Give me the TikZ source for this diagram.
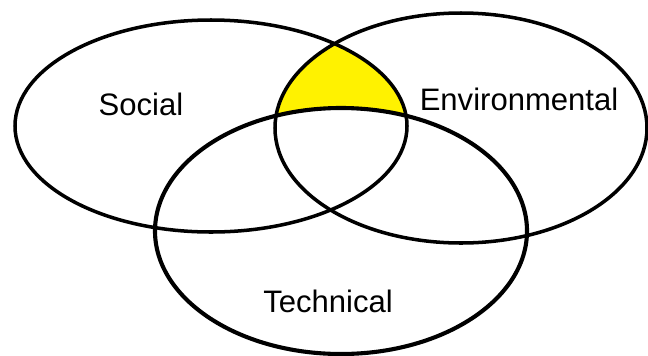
\documentclass[tikz,border=0pt]{standalone}
\usepackage{fontspec}
\setmainfont{Liberation Sans}

\begin{document}
\begin{tikzpicture}[x=0.03cm,y=-0.03cm,line width=3pt,
  setlabel/.style={anchor=base,font=\fontsize{26.5}{30}\selectfont}]
  \useasboundingbox (0,0) rectangle (648,355);
  % shaded part: social and environmental, but not technical
  \begin{scope}
    \clip (211,126) ellipse [x radius=196, y radius=106];
    \clip (461,128) ellipse [x radius=186, y radius=115];
    \fill[fill={rgb,255:red,255;green,242;blue,0}, even odd rule]
      (0,0) rectangle (648,355) (341,231) ellipse [x radius=186, y radius=123];
  \end{scope}
  \draw (211,126) ellipse [x radius=196, y radius=106];
  \draw (461,128) ellipse [x radius=186, y radius=115];
  \draw[line width=3.5pt] (341,231) ellipse [x radius=186, y radius=123];
  \node[setlabel] (social) at (141,115) {Social};
  \node[setlabel] (env) at (519,110) {Environmental};
  \node[setlabel] (tech) at (328,312) {Technical};
\end{tikzpicture}
\end{document}
